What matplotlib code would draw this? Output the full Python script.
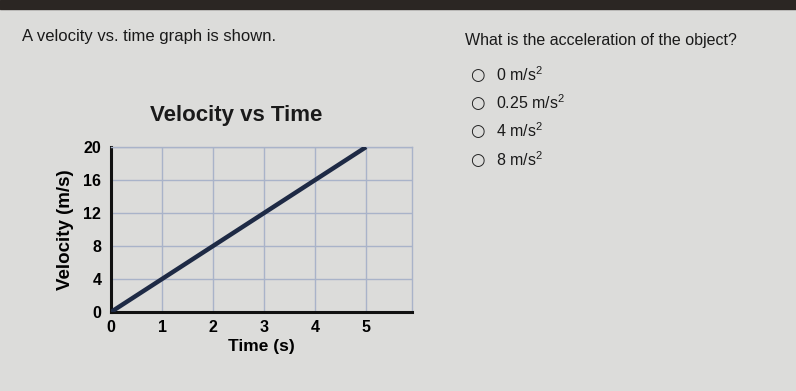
import matplotlib.pyplot as plt
from matplotlib.patches import Rectangle

# Data
time = [0, 5]
velocity = [0, 20]
x_ticks = [0, 1, 2, 3, 4, 5]
y_ticks = [0, 4, 8, 12, 16, 20]
options = ["0 m/s$^2$", "0.25 m/s$^2$", "4 m/s$^2$", "8 m/s$^2$"]

plt.rcParams['font.family'] = ['Liberation Sans', 'DejaVu Sans']
plt.rcParams['mathtext.fontset'] = 'custom'
plt.rcParams['mathtext.rm'] = 'Liberation Sans'

bg = '#dcdcda'
fig = plt.figure(figsize=(7.96, 3.91), dpi=100, facecolor=bg)

# dark screen edge at top
fig.patches.append(Rectangle((0, 0.978), 1, 0.022, transform=fig.transFigure,
                             color='#2b2623', zorder=0))

# question texts
fig.text(22/796, 1 - 36/391, "A velocity vs. time graph is shown.",
         fontsize=12, va='center', color='#1a1a1a')
fig.text(465/796, 1 - 41/391, "What is the acceleration of the object?",
         fontsize=11.5, va='center', color='#1a1a1a')

opt_y = [75, 103, 131, 160]
for yy, label in zip(opt_y, options):
    fig.text(477/796, 1 - yy/391, "○", fontsize=12, va='center', ha='center',
             family=['DejaVu Sans'], color='#222222')
    fig.text(496/796, 1 - yy/391, label, fontsize=11.5, va='center', color='#1a1a1a')

# chart
ax = fig.add_axes([111/796, 1 - 312/391, 301/796, 165/391])
ax.set_facecolor(bg)
ax.plot(time, velocity, color='#1e2a45', linewidth=3.2, solid_capstyle='butt', zorder=3)

ax.set_xlim(0, 5.9)
ax.set_ylim(0, 20)
ax.set_xticks(x_ticks)
ax.set_yticks(y_ticks)
ax.tick_params(axis='y', length=0, labelsize=11.5, pad=7)
ax.tick_params(axis='x', length=0, labelsize=11.5, pad=6)
for lab in ax.get_xticklabels() + ax.get_yticklabels():
    lab.set_fontweight('bold')
ax.grid(color='#a9b3c9', linewidth=1.0)

for side in ['left', 'bottom']:
    ax.spines[side].set_color('#111111')
    ax.spines[side].set_linewidth(2.2)
for side in ['top', 'right']:
    ax.spines[side].set_color('#a9b3c9')
    ax.spines[side].set_linewidth(1.0)

fig.text(236/796, 1 - 115/391, "Velocity vs Time", fontsize=16, fontweight='bold',
         ha='center', va='center', color='#1a1a1a')
ax.set_xlabel("Time (s)", fontsize=12.5, fontweight='bold', labelpad=3)
ax.set_ylabel("Velocity (m/s)", fontsize=13.5, fontweight='bold', labelpad=7)

fig.savefig("out.png", dpi=100, facecolor=bg)
